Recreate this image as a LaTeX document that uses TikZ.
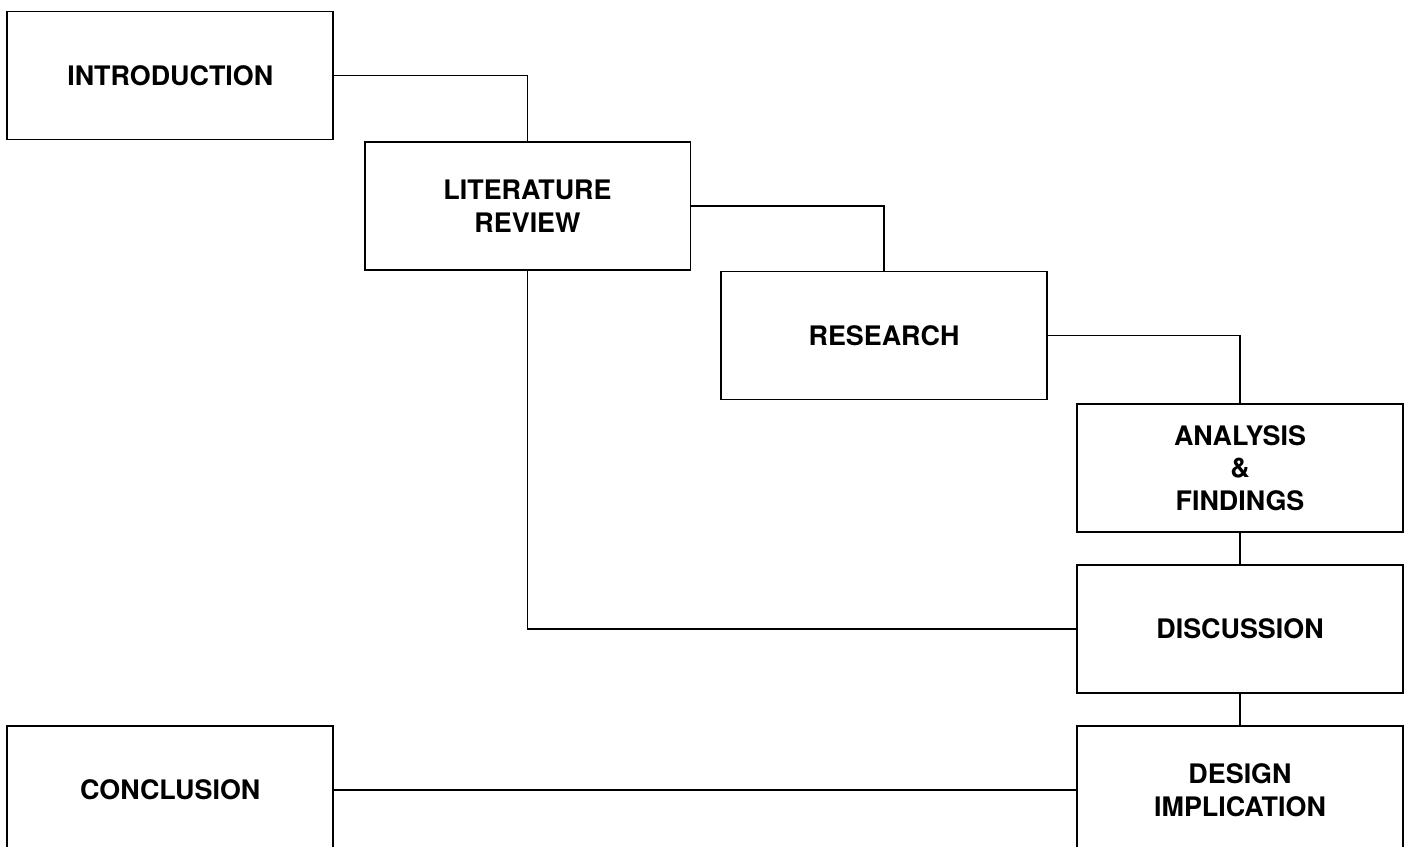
\documentclass[tikz,border=0pt]{standalone}
\usepackage{fontspec}
\setmainfont{TeX Gyre Heros}
\usepackage{tikz}

\begin{document}
\begin{tikzpicture}[x=0.02cm, y=-0.02cm]
			\tikzstyle{etapa} = [draw, line width=1.1pt, minimum width=6.52cm, minimum height=2.56cm, inner sep=0pt, align=center, font=\fontsize{15.3}{18.5}\selectfont\bfseries]
			\tikzstyle{ligacao} = [line width=1.1pt]
			\useasboundingbox (0,0) rectangle (1408,847);
			\node[etapa] (intro) at (170.25,75.5) {INTRODUCTION};
			\node[etapa] (revisao) at (527.5,206) {LITERATURE\\REVIEW};
			\node[etapa] (pesquisa) at (884,335.5) {RESEARCH};
			\node[etapa] (analise) at (1240,467.75) {ANALYSIS\\\&\\FINDINGS};
			\node[etapa] (discussao) at (1240,629) {DISCUSSION};
			\node[etapa] (design) at (1240,790) {DESIGN\\IMPLICATION};
			\node[etapa] (conclusao) at (170.25,790) {CONCLUSION};
			\draw[ligacao] (intro.east) -| (revisao.north);
			\draw[ligacao] (revisao.east) -| (pesquisa.north);
			\draw[ligacao] (pesquisa.east) -| (analise.north);
			\draw[ligacao] (analise.south) -- (discussao.north);
			\draw[ligacao] (revisao.south) |- (discussao.west);
			\draw[ligacao] (discussao.south) -- (design.north);
			\draw[ligacao] (conclusao.east) -- (design.west);
		\end{tikzpicture}
\end{document}
